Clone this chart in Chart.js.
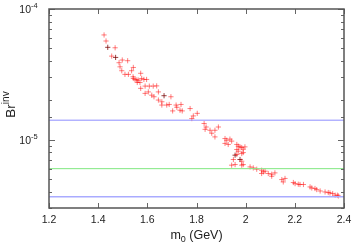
<!DOCTYPE html>
<html lang="en">
<head>
    <meta charset="UTF-8">
    <title>Br inv vs m0</title>
    <script src="https://cdn.jsdelivr.net/npm/chart.js"></script>
    <style>
        html, body { margin: 0; padding: 0; background: #fff; }
        #wrap { width: 354px; height: 245px; }
    </style>
</head>
<body>
<div id="wrap"><canvas id="brChart" width="354" height="245"></canvas></div>
<script>
    // scan points (red)
    const massRed = [1.424, 1.432, 1.469, 1.455, 1.498, 1.520, 1.485, 1.489, 1.543, 1.496,
        1.536, 1.509, 1.523, 1.573, 1.543, 1.550, 1.563, 1.577, 1.586, 1.597,
        1.570, 1.559, 1.591, 1.608, 1.624, 1.638, 1.573, 1.591, 1.604, 1.645,
        1.618, 1.627, 1.696, 1.645, 1.659, 1.659, 1.679, 1.689, 1.717, 1.737,
        1.703, 1.733, 1.742, 1.774, 1.803, 1.787, 1.781, 1.831, 1.839, 1.835,
        1.889, 1.855, 1.875, 1.862, 1.875, 1.916, 1.923, 1.936, 1.943, 1.916,
        1.929, 1.964, 1.970, 1.977, 1.984, 1.990, 1.997, 1.964, 1.970, 1.964,
        1.984, 1.990, 1.950, 1.984, 1.957, 1.943, 1.984, 1.990, 2.018, 2.031,
        2.045, 2.065, 2.079, 2.072, 2.065, 2.092, 2.106, 2.119, 2.106, 2.147,
        2.160, 2.153, 2.194, 2.201, 2.214, 2.221, 2.235, 2.262, 2.269, 2.282,
        2.289, 2.303, 2.323, 2.336, 2.343, 2.354, 2.364, 2.373, 2.377, 1.720,
        1.542, 1.557];
    const brRed = [6.33e-5, 5.69e-5, 5.05e-5, 4.36e-5, 4.07e-5, 4.02e-5, 3.88e-5, 3.61e-5, 3.57e-5, 3.37e-5,
        3.37e-5, 3.16e-5, 3.16e-5, 3.22e-5, 2.94e-5, 2.89e-5, 2.86e-5, 2.94e-5, 2.89e-5, 2.89e-5,
        2.74e-5, 2.74e-5, 2.57e-5, 2.57e-5, 2.57e-5, 2.58e-5, 2.47e-5, 2.26e-5, 2.32e-5, 2.32e-5,
        2.19e-5, 2.13e-5, 2.13e-5, 2.01e-5, 1.95e-5, 1.84e-5, 1.84e-5, 1.86e-5, 1.84e-5, 1.86e-5,
        1.66e-5, 1.68e-5, 1.66e-5, 1.73e-5, 1.59e-5, 1.52e-5, 1.45e-5, 1.33e-5, 1.25e-5, 1.20e-5,
        1.25e-5, 1.18e-5, 1.18e-5, 1.12e-5, 1.05e-5, 1.02e-5, 9.9e-6, 1.01e-5, 9.75e-6, 9.36e-6,
        9.19e-6, 9.19e-6, 8.91e-6, 8.81e-6, 8.71e-6, 8.45e-6, 8.81e-6, 8.41e-6, 8.16e-6, 7.70e-6,
        7.83e-6, 7.97e-6, 7.05e-6, 6.84e-6, 6.45e-6, 6.38e-6, 6.38e-6, 6.45e-6, 6.19e-6, 6.08e-6,
        5.94e-6, 5.84e-6, 5.74e-6, 5.67e-6, 5.51e-6, 5.51e-6, 5.44e-6, 5.57e-6, 5.25e-6, 4.95e-6,
        5.05e-6, 4.75e-6, 4.70e-6, 4.61e-6, 4.56e-6, 4.54e-6, 4.54e-6, 4.35e-6, 4.27e-6, 4.23e-6,
        4.15e-6, 4.05e-6, 3.98e-6, 3.94e-6, 3.91e-6, 3.87e-6, 3.76e-6, 3.76e-6, 3.71e-6, 1.77e-5,
        3.03e-5, 2.86e-5];

    // darker points
    const massDark = [1.439, 1.471, 1.668, 1.957, 1.977];
    const brDark = [5.09e-5, 4.26e-5, 2.17e-5, 7.61e-6, 7.05e-6];

    // horizontal limit lines
    const limitBr = [1.41e-5, 6.0e-6, 3.65e-6];
    const limitColors = ['#8e8eff', '#80e880', '#a9abff'];

    const xTicks = [1.2, 1.4, 1.6, 1.8, 2.0, 2.2, 2.4];
    const xTickLabels = ['1.2', '1.4', '1.6', '1.8', '2', '2.2', '2.4'];
    const yMin = 3e-6, yMax = 1e-4;

    const toPts = (xs, ys) => xs.map((v, i) => ({ x: v, y: ys[i] }));

    const datasets = limitBr.map((v, i) => ({
        type: 'line',
        data: [{ x: xTicks[0], y: v }, { x: xTicks[xTicks.length - 1], y: v }],
        borderColor: limitColors[i],
        borderWidth: i === 2 ? 1.5 : 1,
        pointRadius: 0,
        fill: false
    }));
    datasets.push({
        data: toPts(massRed, brRed),
        pointStyle: 'cross',
        pointRadius: 2.6,
        borderColor: 'rgba(255,0,0,0.5)',
        borderWidth: 1
    });
    datasets.push({
        data: toPts(massDark, brDark),
        pointStyle: 'cross',
        pointRadius: 2.6,
        borderColor: 'rgba(120,0,0,0.75)',
        borderWidth: 1
    });

    // gnuplot-like frame, inward ticks, superscript labels
    const frame = {
        id: 'frame',
        afterDraw(chart) {
            const { ctx, chartArea: a, scales: { x, y } } = chart;
            ctx.save();
            ctx.strokeStyle = '#666';
            ctx.lineWidth = 1;
            const seg = (x1, y1, x2, y2) => { ctx.beginPath(); ctx.moveTo(x1, y1); ctx.lineTo(x2, y2); ctx.stroke(); };

            xTicks.forEach(v => {
                const px = Math.round(x.getPixelForValue(v)) + 0.5;
                seg(px, a.bottom, px, a.bottom - 5);
                seg(px, a.top, px, a.top + 5);
            });
            y.ticks.forEach(t => {
                const py = Math.round(y.getPixelForValue(t.value)) + 0.5;
                const m = t.value / Math.pow(10, Math.floor(Math.log10(t.value) + 1e-9));
                const len = Math.abs(m - 1) < 1e-6 ? 6 : 3;
                seg(a.left, py, a.left + len, py);
                seg(a.right, py, a.right - len, py);
            });

            ctx.strokeStyle = '#555';
            ctx.lineWidth = 1.5;
            ctx.strokeRect(a.left, a.top, a.right - a.left, a.bottom - a.top);

            ctx.fillStyle = '#222';
            ctx.textBaseline = 'alphabetic';
            ctx.font = '10.5px "Liberation Sans", Arial, sans-serif';
            ctx.textAlign = 'center';
            xTicks.forEach((v, i) => {
                ctx.fillText(xTickLabels[i], x.getPixelForValue(v), a.bottom + 15);
            });

            [1e-5, 1e-4].forEach(v => {
                const py = y.getPixelForValue(v);
                const e = Math.round(Math.log10(v));
                ctx.font = '10.5px "Liberation Sans", Arial, sans-serif';
                ctx.textAlign = 'right';
                ctx.fillText('10', 31, py + 4);
                ctx.font = '7.5px "Liberation Sans", Arial, sans-serif';
                ctx.textAlign = 'left';
                ctx.fillText(String(e), 31, py - 1);
            });

            // x title: m_0 (GeV)
            ctx.font = '12.5px "Liberation Sans", Arial, sans-serif';
            ctx.textAlign = 'left';
            const cx = (a.left + a.right) / 2;
            const wm = ctx.measureText('m').width;
            ctx.font = '9px "Liberation Sans", Arial, sans-serif';
            const w0 = ctx.measureText('0').width;
            ctx.font = '12.5px "Liberation Sans", Arial, sans-serif';
            const wr = ctx.measureText(' (GeV)').width;
            let sx = cx - (wm + w0 + wr) / 2;
            ctx.fillText('m', sx, 239);
            ctx.font = '9px "Liberation Sans", Arial, sans-serif';
            ctx.fillText('0', sx + wm, 242);
            ctx.font = '12.5px "Liberation Sans", Arial, sans-serif';
            ctx.fillText(' (GeV)', sx + wm + w0, 239);

            // y title: Br^inv
            ctx.translate(15, (a.top + a.bottom) / 2 - 4);
            ctx.rotate(-Math.PI / 2);
            ctx.font = '13.5px "Liberation Sans", Arial, sans-serif';
            const wb = ctx.measureText('Br').width;
            ctx.font = '10px "Liberation Sans", Arial, sans-serif';
            const wi = ctx.measureText('inv').width;
            sx = -(wb + wi) / 2;
            ctx.font = '13.5px "Liberation Sans", Arial, sans-serif';
            ctx.fillText('Br', sx, 0);
            ctx.font = '10px "Liberation Sans", Arial, sans-serif';
            ctx.fillText('inv', sx + wb, -6);
            ctx.restore();
        }
    };

    new Chart(document.getElementById('brChart'), {
        type: 'scatter',
        data: { datasets: datasets },
        options: {
            responsive: false,
            animation: false,
            events: [],
            layout: { padding: { left: 49, right: 10, top: 9, bottom: 37 } },
            plugins: { legend: { display: false }, tooltip: { enabled: false } },
            scales: {
                x: {
                    type: 'linear', min: 1.2, max: 2.4,
                    grid: { display: false }, border: { display: false },
                    ticks: { display: false },
                    afterFit: s => { s.height = 0; }
                },
                y: {
                    type: 'logarithmic', min: yMin, max: yMax,
                    grid: { display: false }, border: { display: false },
                    ticks: { display: false },
                    afterFit: s => { s.width = 0; }
                }
            }
        },
        plugins: [frame]
    });
</script>
</body>
</html>
